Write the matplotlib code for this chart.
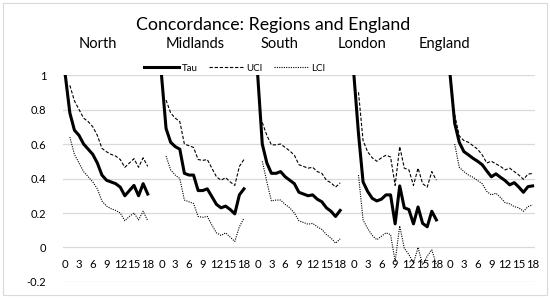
import numpy as np
import matplotlib.pyplot as plt
from matplotlib.patches import Rectangle

# Regions shown left to right, each with days 0..18
regions = ['North', 'Midlands', 'South', 'London', 'England']
days = list(range(19))
nan = np.nan

tau_north = [1.0, 0.78, 0.68, 0.65, 0.60, 0.57, 0.54, 0.49, 0.42, 0.39, 0.38, 0.37, 0.35, 0.30, 0.33, 0.36, 0.30, 0.37, 0.31]
uci_north = [nan, 0.94, 0.85, 0.80, 0.75, 0.73, 0.70, 0.65, 0.575, 0.555, 0.54, 0.53, 0.51, 0.465, 0.49, 0.515, 0.465, 0.52, 0.47]
lci_north = [nan, 0.64, 0.54, 0.49, 0.44, 0.41, 0.38, 0.34, 0.27, 0.24, 0.225, 0.215, 0.20, 0.155, 0.18, 0.20, 0.16, 0.21, 0.155]

tau_midlands = [1.0, 0.69, 0.61, 0.585, 0.57, 0.43, 0.42, 0.42, 0.33, 0.33, 0.34, 0.295, 0.25, 0.23, 0.24, 0.22, 0.195, 0.305, 0.34]
uci_midlands = [nan, 0.855, 0.78, 0.75, 0.73, 0.60, 0.59, 0.58, 0.51, 0.505, 0.51, 0.46, 0.41, 0.39, 0.405, 0.38, 0.36, 0.47, 0.51]
lci_midlands = [nan, 0.53, 0.45, 0.42, 0.40, 0.275, 0.265, 0.255, 0.18, 0.175, 0.18, 0.13, 0.085, 0.07, 0.085, 0.06, 0.035, 0.12, 0.17]

tau_south = [1.0, 0.60, 0.49, 0.43, 0.43, 0.44, 0.41, 0.39, 0.37, 0.32, 0.31, 0.30, 0.305, 0.28, 0.265, 0.23, 0.21, 0.18, 0.215]
uci_south = [nan, 0.725, 0.65, 0.595, 0.595, 0.60, 0.58, 0.56, 0.535, 0.48, 0.47, 0.46, 0.465, 0.44, 0.43, 0.39, 0.375, 0.35, 0.375]
lci_south = [nan, 0.50, 0.38, 0.27, 0.275, 0.275, 0.25, 0.23, 0.20, 0.155, 0.145, 0.135, 0.14, 0.12, 0.105, 0.075, 0.055, 0.025, 0.05]

tau_london = [1.0, 0.66, 0.38, 0.325, 0.285, 0.27, 0.28, 0.305, 0.305, 0.137, 0.357, 0.23, 0.22, 0.137, 0.235, 0.14, 0.12, 0.21, 0.16]
uci_london = [nan, 0.90, 0.62, 0.555, 0.52, 0.50, 0.52, 0.535, 0.525, 0.36, 0.585, 0.46, 0.45, 0.36, 0.46, 0.37, 0.35, 0.44, 0.39]
lci_london = [nan, 0.42, 0.16, 0.11, 0.07, 0.045, 0.065, 0.085, 0.075, -0.08, 0.125, -0.005, -0.04, -0.09, 0.0, -0.10, -0.05, -0.013, -0.10]

tau_england = [1.0, 0.72, 0.61, 0.556, 0.537, 0.517, 0.50, 0.48, 0.444, 0.41, 0.427, 0.407, 0.388, 0.363, 0.376, 0.35, 0.32, 0.353, 0.357]
uci_england = [nan, 0.77, 0.647, 0.62, 0.61, 0.59, 0.57, 0.537, 0.49, 0.50, 0.485, 0.47, 0.45, 0.46, 0.44, 0.42, 0.395, 0.425, 0.43]
lci_england = [nan, 0.60, 0.465, 0.44, 0.42, 0.407, 0.388, 0.37, 0.325, 0.305, 0.315, 0.29, 0.26, 0.253, 0.237, 0.23, 0.21, 0.237, 0.247]

tau = [tau_north, tau_midlands, tau_south, tau_london, tau_england]
uci = [uci_north, uci_midlands, uci_south, uci_london, uci_england]
lci = [lci_north, lci_midlands, lci_south, lci_london, lci_england]

plt.rcParams['font.family'] = ['Lato', 'DejaVu Sans']

fig = plt.figure(figsize=(5.5, 2.98), dpi=100)
ax = fig.add_axes([0.1145, 0.0537, 0.858, 0.6946])

# each region takes 19 categories plus 2 empty ones
block = len(days) + 2
for g in range(len(regions)):
    x = np.arange(len(days)) + g * block
    ax.plot(x, tau[g], color='black', lw=2.2, solid_joinstyle='round',
            label='Tau' if g == 0 else None, zorder=3)
    ax.plot(x, uci[g], color='black', lw=0.8, linestyle=(0, (3, 1.6)),
            label='UCI' if g == 0 else None, zorder=2)
    ax.plot(x, lci[g], color='black', lw=0.8, linestyle=(0, (1, 1.1)),
            label='LCI' if g == 0 else None, zorder=2)

n_cat = block * len(regions) - 2
ticks = np.arange(0, n_cat, 3)
ax.set_xticks(ticks)
ax.set_xticklabels([str(t % block) if t % block <= 18 else '' for t in ticks])
ax.set_xlim(-0.5, n_cat - 0.5)
ax.set_ylim(-0.2, 1.0)
ax.set_yticks([-0.2, 0, 0.2, 0.4, 0.6, 0.8, 1.0])
ax.set_yticklabels(['-0.2', '0', '0.2', '0.4', '0.6', '0.8', '1'])

ax.grid(axis='y', color='#d9d9d9', lw=0.9)
ax.set_axisbelow(True)
for s in ['top', 'right', 'left']:
    ax.spines[s].set_visible(False)
ax.spines['bottom'].set_position(('data', 0))
ax.spines['bottom'].set_visible(False)
ax.tick_params(axis='x', length=0, pad=8, labelsize=8.2)
ax.tick_params(axis='y', length=0, pad=12, labelsize=8)

fig.text(0.497, 0.916, 'Concordance: Regions and England', ha='center', va='center', fontsize=12.8)
sub_x = [97.5, 195.5, 280, 362, 444]
for name, px in zip(regions, sub_x):
    fig.text(px / 550, 0.851, name, ha='center', va='center', fontsize=10.5)

ax.legend(loc='center', bbox_to_anchor=(0.427, 0.771), bbox_transform=fig.transFigure,
          ncol=3, frameon=False, fontsize=7, handlelength=3.6, handletextpad=0.3,
          columnspacing=1.1, borderpad=0)

fig.patches.append(Rectangle((0.006, 0.01), 0.988, 0.98, transform=fig.transFigure,
                             fill=False, edgecolor='#d9d9d9', lw=0.8))

fig.savefig('out.png', dpi=100)
